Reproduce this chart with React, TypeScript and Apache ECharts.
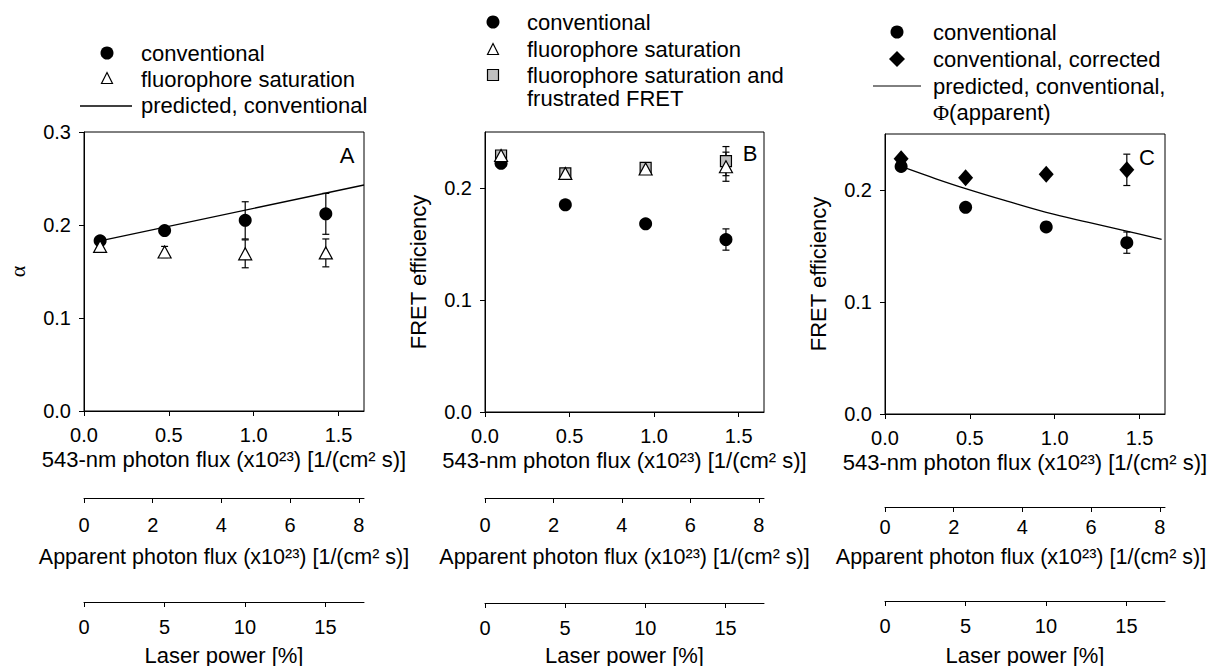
import React, { useEffect, useRef } from "react";
import * as echarts from "echarts";

// ---------- data ----------
const laserPower = [1, 5, 10, 15];
const flux543 = [0.095, 0.475, 0.95, 1.425];

// tick labels
const fluxTicks = [0, 0.5, 1.0, 1.5];
const apparentTicks = [0, 2, 4, 6, 8];
const powerTicks = [0, 5, 10, 15];
const alphaTicks = [0, 0.1, 0.2, 0.3];
const fretTicks = [0, 0.1, 0.2];

// Panel A: alpha
const alphaConventional = [0.183, 0.194, 0.205, 0.212];
const alphaConventionalErr = [0.003, 0.003, 0.02, 0.022];
const alphaSaturation = [0.177, 0.171, 0.169, 0.17];
const alphaSaturationErr = [0.003, 0.006, 0.015, 0.015];
const alphaPredictedX = [0.095, 1.65];
const alphaPredicted = [0.183, 0.243];

// Panel B: FRET efficiency
const fretConventional = [0.222, 0.185, 0.168, 0.154];
const fretConventionalErr = [0.003, 0.003, 0.003, 0.0095];
const fretSaturation = [0.229, 0.213, 0.217, 0.219];
const fretSaturationErr = [0.002, 0.004, 0.003, 0.013];
const fretSatFrustrated = [0.229, 0.213, 0.218, 0.224];
const fretSatFrustratedErr = [0.002, 0.003, 0.003, 0.013];

// Panel C: FRET efficiency, corrected
const fretCConventional = [0.221, 0.1845, 0.167, 0.153];
const fretCConventionalErr = [0.002, 0.002, 0.002, 0.0095];
const fretCCorrected = [0.228, 0.211, 0.214, 0.218];
const fretCCorrectedErr = [0.002, 0.002, 0.002, 0.014];
const predictedCX = [0.095, 0.3, 0.48, 0.72, 0.95, 1.2, 1.43, 1.63];
const predictedC = [0.221, 0.21, 0.201, 0.19, 0.18, 0.171, 0.163, 0.156];

const FONT = "'Liberation Sans', Arial, sans-serif";
const SERIF = "'Liberation Serif', 'DejaVu Serif', serif";
const TICK_FS = 20;
const TITLE_FS = 22;
const LEG_FS = 22;

function pairs(xs: number[], ys: number[]) {
  return xs.map((x, i) => [x, ys[i]]);
}

function errorSeries(xs: number[], ys: number[], errs: number[], idx: number) {
  return {
    type: "custom",
    xAxisIndex: idx,
    yAxisIndex: idx,
    silent: true,
    z: 2,
    data: xs.map((x, i) => [x, ys[i], errs[i]]),
    encode: { x: 0, y: 1 },
    renderItem: (_params: any, api: any) => {
      const x = api.value(0);
      const y = api.value(1);
      const e = api.value(2);
      const t = api.coord([x, y + e]);
      const b = api.coord([x, y - e]);
      const hw = 3.5;
      const st = { stroke: "#000", lineWidth: 1.2 };
      return {
        type: "group",
        children: [
          { type: "line", shape: { x1: t[0], y1: t[1], x2: b[0], y2: b[1] }, style: st },
          { type: "line", shape: { x1: t[0] - hw, y1: t[1], x2: t[0] + hw, y2: t[1] }, style: st },
          { type: "line", shape: { x1: b[0] - hw, y1: b[1], x2: b[0] + hw, y2: b[1] }, style: st },
        ],
      };
    },
  };
}

function scatter(name: string, xs: number[], ys: number[], idx: number, symbol: string, size: any, fill: string, z: number) {
  return {
    type: "scatter",
    name,
    xAxisIndex: idx,
    yAxisIndex: idx,
    silent: true,
    z,
    symbol,
    symbolSize: size,
    data: pairs(xs, ys),
    itemStyle: { color: fill, borderColor: "#000", borderWidth: fill === "#000" ? 0 : 1.2, opacity: 1 },
  };
}

function lineSeries(name: string, xs: number[], ys: number[], idx: number, smooth: boolean) {
  return {
    type: "line",
    name,
    xAxisIndex: idx,
    yAxisIndex: idx,
    silent: true,
    z: 3,
    symbol: "none",
    smooth: smooth ? 0.4 : false,
    data: pairs(xs, ys),
    lineStyle: { color: "#000", width: 1.3 },
  };
}

const panels = [
  { left: 84, width: 280, top: 132, height: 279, yMax: 0.3, yTicks: alphaTicks, yName: "α", yFont: SERIF, yNameGap: 56, appY: 498, appMargin: 17, appGap: 48, appPadRight: 0, powY: 602, label: "A", lx: 347, ly: 155 },
  { left: 485, width: 279, top: 132, height: 280, yMax: 0.25, yTicks: fretTicks, yName: "FRET efficiency", yFont: FONT, yNameGap: 56, appY: 498, appMargin: 17, appGap: 48, appPadRight: 0, powY: 603, label: "B", lx: 750, ly: 153 },
  { left: 885, width: 280, top: 134, height: 280, yMax: 0.25, yTicks: fretTicks, yName: "FRET efficiency", yFont: FONT, yNameGap: 56, appY: 507, appMargin: 10, appGap: 39, appPadRight: 8, powY: 601, label: "C", lx: 1147, ly: 157 },
];

const axisBase = {
  axisLine: { show: true, onZero: false, lineStyle: { color: "#000", width: 1 } },
  axisTick: { show: true, inside: false, length: 5, lineStyle: { color: "#000", width: 1 } },
  splitLine: { show: false },
  nameTextStyle: { color: "#000", fontSize: TITLE_FS, fontFamily: FONT },
};

function buildOption() {
  const grid: any[] = [];
  const xAxis: any[] = [];
  const yAxis: any[] = [];
  const graphic: any[] = [];

  panels.forEach((p) => {
    grid.push({ left: p.left, top: p.top, width: p.width, height: p.height, show: true, borderColor: "#000", borderWidth: 1, backgroundColor: "transparent", containLabel: false, outerBoundsMode: "none" });
    grid.push({ left: p.left, top: p.appY - 1, width: p.width, height: 1, show: false, containLabel: false, outerBoundsMode: "none" });
    grid.push({ left: p.left, top: p.powY - 1, width: p.width, height: 1, show: false, containLabel: false, outerBoundsMode: "none" });
    const g = grid.length - 3;

    xAxis.push({
      ...axisBase,
      type: "value",
      gridIndex: g,
      min: 0,
      max: 1.65,
      axisTick: { ...axisBase.axisTick, customValues: fluxTicks },
      axisLabel: { customValues: fluxTicks, color: "#000", fontSize: TICK_FS, fontFamily: FONT, margin: 14, formatter: (v: number) => v.toFixed(1) },
      name: "543-nm photon flux (x10²³) [1/(cm² s)]",
      nameLocation: "middle",
      nameGap: 37,
    });
    xAxis.push({
      ...axisBase,
      type: "value",
      gridIndex: g + 1,
      min: 0,
      max: 8.15,
      axisTick: { ...axisBase.axisTick, customValues: apparentTicks },
      axisLabel: { customValues: apparentTicks, color: "#000", fontSize: TICK_FS, fontFamily: FONT, margin: p.appMargin, formatter: (v: number) => String(v) },
      name: "Apparent photon flux (x10²³) [1/(cm² s)]",
      nameLocation: "middle",
      nameGap: p.appGap,
      nameTextStyle: { color: "#000", fontSize: 21.5, fontFamily: FONT, padding: [0, p.appPadRight, 0, 0] },
    });
    xAxis.push({
      ...axisBase,
      type: "value",
      gridIndex: g + 2,
      min: 0,
      max: 17.4,
      axisTick: { ...axisBase.axisTick, customValues: powerTicks },
      axisLabel: { customValues: powerTicks, color: "#000", fontSize: TICK_FS, fontFamily: FONT, margin: 15, formatter: (v: number) => String(v) },
      name: "Laser power [%]",
      nameLocation: "middle",
      nameGap: 644 - p.powY,
    });

    yAxis.push({
      ...axisBase,
      type: "value",
      gridIndex: g,
      min: 0,
      max: p.yMax,
      axisTick: { ...axisBase.axisTick, customValues: p.yTicks },
      axisLabel: { customValues: p.yTicks, color: "#000", fontSize: TICK_FS, fontFamily: FONT, margin: 13, formatter: (v: number) => v.toFixed(1) },
      name: p.yName,
      nameLocation: "middle",
      nameGap: p.yNameGap,
      nameTextStyle: { color: "#000", fontSize: TITLE_FS, fontFamily: p.yFont },
    });
    yAxis.push({ type: "value", gridIndex: g + 1, min: 0, max: 1, show: false });
    yAxis.push({ type: "value", gridIndex: g + 2, min: 0, max: 1, show: false });

    graphic.push({ type: "text", x: p.lx, y: p.ly, silent: true, style: { text: p.label, fill: "#000", fontSize: 22, fontFamily: FONT, align: "center", verticalAlign: "middle" } });
  });

  const txt = (x: number, y: number, text: string) => ({
    type: "text", x, y, silent: true,
    style: { text, fill: "#000", fontSize: LEG_FS, fontFamily: FONT, align: "left", verticalAlign: "middle" },
  });
  const tri = (cx: number, cy: number, s: number) => ({
    type: "polygon", silent: true,
    shape: { points: [[cx, cy - s / 2], [cx + s / 2, cy + s / 2], [cx - s / 2, cy + s / 2]] },
    style: { fill: "#fff", stroke: "#000", lineWidth: 1.2 },
  });

  // Legend A
  graphic.push({ type: "circle", silent: true, shape: { cx: 107, cy: 53, r: 6.5 }, style: { fill: "#000" } });
  graphic.push(tri(107, 78, 11));
  graphic.push({ type: "line", silent: true, shape: { x1: 80, y1: 106, x2: 132, y2: 106 }, style: { stroke: "#000", lineWidth: 1.3 } });
  graphic.push(txt(141, 53, "conventional"));
  graphic.push(txt(141, 79, "fluorophore saturation"));
  graphic.push(txt(141, 105, "predicted, conventional"));

  // Legend B
  graphic.push({ type: "circle", silent: true, shape: { cx: 493, cy: 22, r: 6.5 }, style: { fill: "#000" } });
  graphic.push(tri(493, 49, 11));
  graphic.push({ type: "rect", silent: true, shape: { x: 487.5, y: 69.5, width: 11, height: 11 }, style: { fill: "#bfbfbf", stroke: "#000", lineWidth: 1.2 } });
  graphic.push(txt(527, 22, "conventional"));
  graphic.push(txt(527, 49, "fluorophore saturation"));
  graphic.push(txt(527, 75, "fluorophore saturation and"));
  graphic.push(txt(527, 98, "frustrated FRET"));

  // Legend C
  graphic.push({ type: "circle", silent: true, shape: { cx: 897, cy: 32, r: 6.5 }, style: { fill: "#000" } });
  graphic.push({ type: "polygon", silent: true, shape: { points: [[897, 51], [905, 59], [897, 67], [889, 59]] }, style: { fill: "#000" } });
  graphic.push({ type: "line", silent: true, shape: { x1: 873, y1: 86, x2: 921, y2: 86 }, style: { stroke: "#000", lineWidth: 1 } });
  graphic.push(txt(933, 32, "conventional"));
  graphic.push(txt(933, 59, "conventional, corrected"));
  graphic.push(txt(933, 86, "predicted, conventional,"));
  graphic.push({
    type: "text", x: 933, y: 112, silent: true,
    style: {
      text: "{phi|Φ}(apparent)", fill: "#000", fontSize: LEG_FS, fontFamily: FONT, align: "left", verticalAlign: "middle",
      rich: { phi: { fontFamily: SERIF, fontSize: LEG_FS, fill: "#000" } },
    },
  });

  const series: any[] = [
    // Panel A (axis index 0)
    errorSeries(flux543, alphaConventional, alphaConventionalErr, 0),
    errorSeries(flux543, alphaSaturation, alphaSaturationErr, 0),
    lineSeries("predicted, conventional", alphaPredictedX, alphaPredicted, 0, false),
    scatter("conventional", flux543, alphaConventional, 0, "circle", 13, "#000", 4),
    scatter("fluorophore saturation", flux543, alphaSaturation, 0, "triangle", [13, 12], "#fff", 6),
    // Panel B (axis index 3)
    errorSeries(flux543, fretConventional, fretConventionalErr, 3),
    errorSeries(flux543, fretSatFrustrated, fretSatFrustratedErr, 3),
    errorSeries(flux543, fretSaturation, fretSaturationErr, 3),
    scatter("conventional", flux543, fretConventional, 3, "circle", 13, "#000", 4),
    scatter("fluorophore saturation and frustrated FRET", flux543, fretSatFrustrated, 3, "rect", [11, 11], "#bfbfbf", 5),
    scatter("fluorophore saturation", flux543, fretSaturation, 3, "triangle", [13, 12], "#fff", 6),
    // Panel C (axis index 6)
    errorSeries(flux543, fretCConventional, fretCConventionalErr, 6),
    errorSeries(flux543, fretCCorrected, fretCCorrectedErr, 6),
    lineSeries("predicted, conventional, Φ(apparent)", predictedCX, predictedC, 6, true),
    scatter("conventional", flux543, fretCConventional, 6, "circle", 13, "#000", 4),
    scatter("conventional, corrected", flux543, fretCCorrected, 6, "diamond", [15, 17], "#000", 5),
  ];

  return {
    animation: false,
    backgroundColor: "#fff",
    textStyle: { fontFamily: FONT, color: "#000" },
    grid,
    xAxis,
    yAxis,
    series,
    graphic,
  };
}

export default function App() {
  const ref = useRef<HTMLDivElement>(null);
  useEffect(() => {
    if (!ref.current) return;
    const chart = echarts.init(ref.current, null, { renderer: "svg" });
    chart.setOption(buildOption() as any);
    return () => chart.dispose();
  }, []);
  // laser power values correspond to the flux positions (kept for reference)
  void laserPower;
  return (
    <div
      ref={ref}
      style={{ position: "fixed", left: 0, top: 0, width: 1212, height: 666, background: "#fff" }}
    />
  );
}
